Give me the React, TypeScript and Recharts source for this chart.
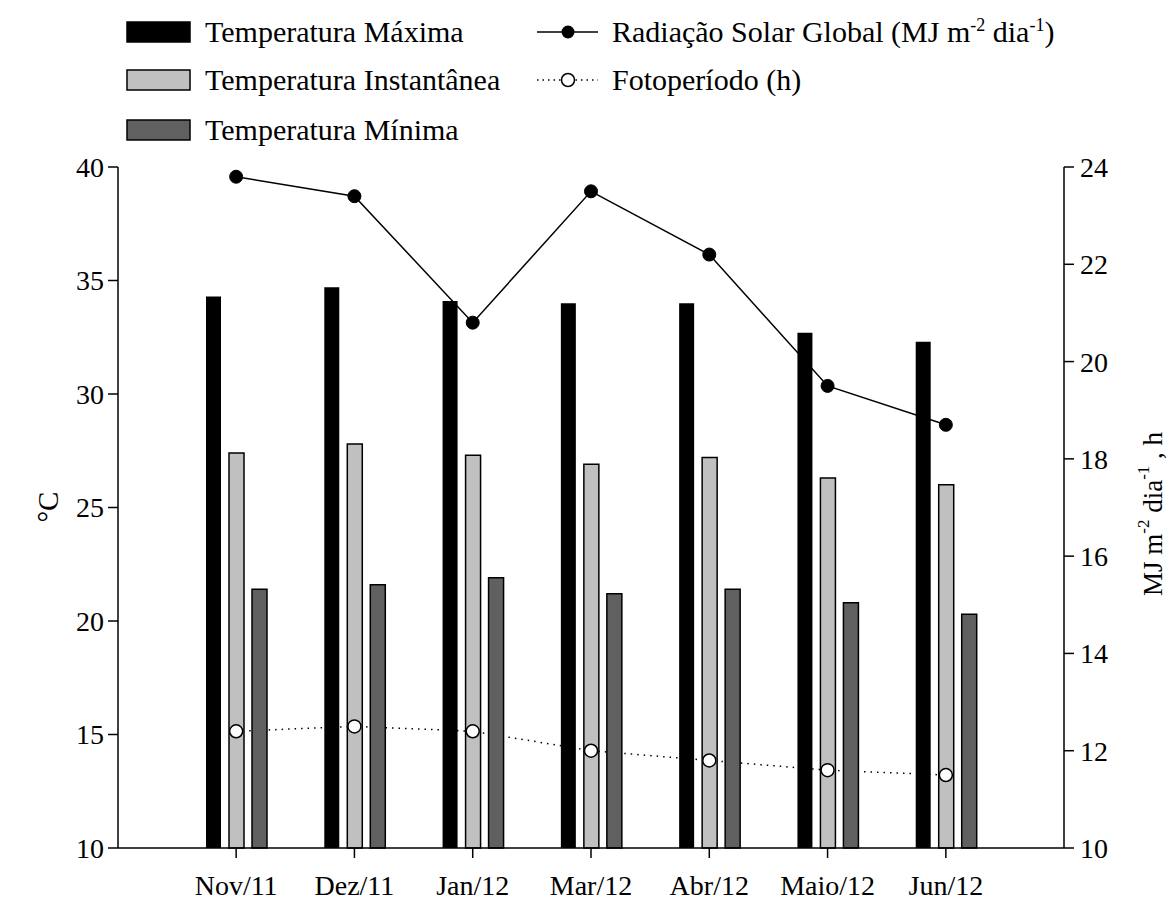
import React from "react";
import {
  ComposedChart,
  Bar,
  Line,
  XAxis,
  YAxis,
} from "recharts";

// monthly values
const months = ["Nov/11", "Dez/11", "Jan/12", "Mar/12", "Abr/12", "Maio/12", "Jun/12"];
const tempMax = [34.3, 34.7, 34.1, 34.0, 34.0, 32.7, 32.3];
const tempInst = [27.4, 27.8, 27.3, 26.9, 27.2, 26.3, 26.0];
const tempMin = [21.4, 21.6, 21.9, 21.2, 21.4, 20.8, 20.3];
const radiation = [23.8, 23.4, 20.8, 23.5, 22.2, 19.5, 18.7];
const photoperiod = [12.4, 12.5, 12.4, 12.0, 11.8, 11.6, 11.5];

const leftTicks = [10, 15, 20, 25, 30, 35, 40];
const rightTicks = [10, 12, 14, 16, 18, 20, 22, 24];

const data = months.map((m, i) => ({
  month: m,
  tmax: tempMax[i],
  tinst: tempInst[i],
  tmin: tempMin[i],
  rad: radiation[i],
  foto: photoperiod[i],
}));

const FONT = "'Liberation Serif', 'Times New Roman', serif";
const LIGHT = "#c0c0c0";
const DARK = "#606060";

const TICK = { fill: "#000", fontSize: 28, fontFamily: FONT };
const AXIS_LINE = { stroke: "#000", strokeWidth: 1.5 };

function LeftTitle() {
  return (
    <text
      x={48}
      y={507}
      transform="rotate(-90, 48, 507)"
      textAnchor="middle"
      dominantBaseline="central"
      fontFamily={FONT}
      fontSize={29}
      fill="#000"
    >
      °C
    </text>
  );
}

function RightTitle() {
  return (
    <text
      x={1153}
      y={514}
      transform="rotate(-90, 1153, 514)"
      textAnchor="middle"
      dominantBaseline="central"
      fontFamily={FONT}
      fontSize={27}
      fill="#000"
    >
      MJ m
      <tspan dy={-10} fontSize={17}>-2</tspan>
      <tspan dy={10}> dia</tspan>
      <tspan dy={-10} fontSize={17}>-1</tspan>
      <tspan dy={10}> , h</tspan>
    </text>
  );
}

function LegendBox() {
  const rows = [
    { label: "Temperatura Máxima", fill: "#000" },
    { label: "Temperatura Instantânea", fill: LIGHT },
    { label: "Temperatura Mínima", fill: DARK },
  ];
  const ys = [32, 80, 130];
  return (
    <svg
      width={1176}
      height={160}
      style={{ position: "absolute", left: 0, top: 0, pointerEvents: "none" }}
    >
      {rows.map((r, i) => (
        <g key={r.label}>
          <rect
            x={127}
            y={ys[i] - 10}
            width={63}
            height={20}
            fill={r.fill}
            stroke="#000"
            strokeWidth={1.5}
          />
          <text x={205} y={ys[i] + 10} fontFamily={FONT} fontSize={30} fill="#000">
            {r.label}
          </text>
        </g>
      ))}
      <line x1={537} x2={598} y1={ys[0]} y2={ys[0]} stroke="#000" strokeWidth={1.5} />
      <circle cx={568} cy={ys[0]} r={6.5} fill="#000" />
      <text x={612} y={ys[0] + 10} fontFamily={FONT} fontSize={30} fill="#000">
        Radiação Solar Global (MJ m
        <tspan dy={-11} fontSize={18}>-2</tspan>
        <tspan dy={11}> dia</tspan>
        <tspan dy={-11} fontSize={18}>-1</tspan>
        <tspan dy={11}>)</tspan>
      </text>
      <line
        x1={537}
        x2={598}
        y1={ys[1]}
        y2={ys[1]}
        stroke="#000"
        strokeWidth={1.5}
        strokeDasharray="1.5 4"
      />
      <circle cx={568} cy={ys[1]} r={6.5} fill="#fff" stroke="#000" strokeWidth={1.5} />
      <text x={612} y={ys[1] + 10} fontFamily={FONT} fontSize={30} fill="#000">
        Fotoperíodo (h)
      </text>
    </svg>
  );
}

export default function App() {
  return (
    <div style={{ position: "absolute", left: 0, top: 0, width: 1176, height: 901, background: "#fff" }}>
      <ComposedChart
        width={1176}
        height={901}
        data={data}
        margin={{ top: 167, right: 52, bottom: 13, left: 58 }}
        barSize={15}
        barGap={8}
      >
        <XAxis
          dataKey="month"
          padding={{ left: 59, right: 59 }}
          height={40}
          tick={TICK}
          tickSize={10}
          tickMargin={17}
          tickLine={AXIS_LINE}
          axisLine={AXIS_LINE}
          interval={0}
        />
        <YAxis
          yAxisId="left"
          domain={[10, 40]}
          ticks={leftTicks}
          width={60}
          tick={TICK}
          tickSize={10}
          tickMargin={4}
          tickLine={AXIS_LINE}
          axisLine={AXIS_LINE}
          label={<LeftTitle />}
        />
        <YAxis
          yAxisId="right"
          orientation="right"
          domain={[10, 24]}
          ticks={rightTicks}
          width={60}
          tick={TICK}
          tickSize={10}
          tickMargin={6}
          tickLine={AXIS_LINE}
          axisLine={AXIS_LINE}
          label={<RightTitle />}
        />

        {/* lines sit behind the bars, markers go on top */}
        <Line
          yAxisId="right"
          dataKey="rad"
          type="linear"
          stroke="#000"
          strokeWidth={1.5}
          dot={false}
          activeDot={false}
          isAnimationActive={false}
          zIndex={250}
        />
        <Line
          yAxisId="right"
          dataKey="foto"
          type="linear"
          stroke="#000"
          strokeWidth={1.5}
          strokeDasharray="1.5 5"
          dot={false}
          activeDot={false}
          isAnimationActive={false}
          zIndex={250}
        />

        <Bar yAxisId="left" dataKey="tmax" fill="#000" isAnimationActive={false} />
        <Bar
          yAxisId="left"
          dataKey="tinst"
          fill={LIGHT}
          stroke="#000"
          strokeWidth={1.5}
          isAnimationActive={false}
        />
        <Bar
          yAxisId="left"
          dataKey="tmin"
          fill={DARK}
          stroke="#000"
          strokeWidth={1.5}
          isAnimationActive={false}
        />

        <Line
          yAxisId="right"
          dataKey="rad"
          type="linear"
          stroke="none"
          dot={{ r: 6.5, fill: "#000", stroke: "#000", strokeWidth: 1 }}
          activeDot={false}
          isAnimationActive={false}
        />
        <Line
          yAxisId="right"
          dataKey="foto"
          type="linear"
          stroke="none"
          dot={{ r: 6.5, fill: "#fff", stroke: "#000", strokeWidth: 1.5 }}
          activeDot={false}
          isAnimationActive={false}
        />
      </ComposedChart>
      <LegendBox />
    </div>
  );
}
